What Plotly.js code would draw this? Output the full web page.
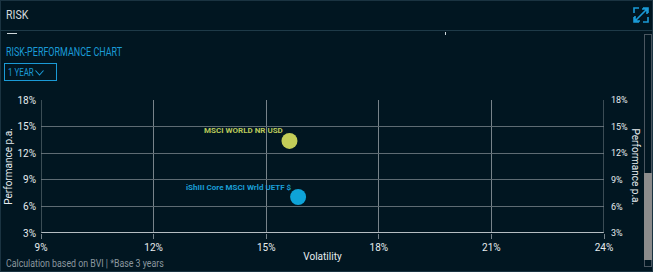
<!DOCTYPE html>
<html><head><meta charset="utf-8">
<script src="https://cdn.plot.ly/plotly-3.0.1.min.js"></script>
<style>
html,body{margin:0;padding:0;background:#011621;width:653px;height:272px;overflow:hidden;font-family:"Roboto",sans-serif;}
#card{position:absolute;left:0;top:0;width:651px;height:270px;border:1px solid #1a3341;}
#hdr{position:absolute;left:0;top:0;width:653px;height:30px;border-bottom:1px solid #1e3a48;}
#hdrt{position:absolute;left:6px;top:8px;color:#d4dadd;font-size:12px;transform:scaleX(0.88);transform-origin:0 0;}
#chart{position:absolute;left:0;top:0;width:653px;height:272px;}
#sub{position:absolute;left:6px;top:44px;color:#1a9ad6;font-size:13px;white-space:nowrap;transform:scaleX(0.69);transform-origin:0 0;}
#sel{position:absolute;left:4px;top:63px;width:53px;height:18px;border:1px solid #1a9ad6;box-sizing:border-box;}
#selt{position:absolute;left:3px;top:2px;color:#1a9ad6;font-size:11px;white-space:nowrap;transform:scaleX(0.72);transform-origin:0 0;}
#chev{position:absolute;left:30px;top:6px;}
#foot{position:absolute;left:6px;top:258px;color:#8a979f;font-size:10px;white-space:nowrap;transform:scaleX(0.88);transform-origin:0 0;}
#track{position:absolute;left:644px;top:34px;width:8px;height:233px;border:1px solid #4a5660;box-sizing:border-box;}
#thumb{position:absolute;left:644px;top:173px;width:8px;height:87px;background:#8c8c8c;}
.frag{position:absolute;height:1px;background:#cfd8dc;}
</style></head><body>
<div id="card"></div>
<div id="hdr"><div id="hdrt">RISK</div>
<svg style="position:absolute;left:633px;top:7px" width="16" height="16" viewBox="0 0 16 16" fill="none" stroke="#1a9ad6" stroke-width="1.6">
<path d="M1 6V1H6M10 1H15V6M15 10V15H10M6 15H1V10M2 14L14 2M9 2H14V7M2 9V14H7"/></svg>
</div>
<div class="frag" style="left:7px;top:33px;width:10px;"></div>
<div class="frag" style="left:445px;top:32px;width:1px;height:3px;"></div>
<div id="chart"></div>
<div id="sub">RISK-PERFORMANCE CHART</div>
<div id="sel"><div id="selt">1 YEAR</div><svg id="chev" width="9" height="6" viewBox="0 0 9 6"><path d="M0.5 0.5L4.5 5L8.5 0.5" fill="none" stroke="#1a9ad6" stroke-width="1.1"/></svg></div>
<div id="foot">Calculation based on BVI | *Base 3 years</div>
<div id="track"></div><div id="thumb"></div>
<script>
const names = ["MSCI WORLD NR USD", "iShIII Core MSCI Wrld UETF $"];
const volatility = [15.62, 15.85];
const performance = [13.38, 7.06];
const colors = ["#c3cd58", "#0ea3d8"];
const labelColors = ["#b9c95a", "#1a9ed6"];
const tickVals = [3, 6, 9, 12, 15, 18];
const xTickVals = [9, 12, 15, 18, 21, 24];

const font = "Roboto, sans-serif";
const gridC = "#5e6b73";
const trace = {
  type: "scatter", mode: "markers",
  x: volatility, y: performance,
  marker: {size: 16, color: colors, line: {width: 0}},
  hoverinfo: "none", showlegend: false
};
const trace2 = {type:"scatter", mode:"markers", x:[null], y:[null], yaxis:"y2", showlegend:false, hoverinfo:"none"};
const annotations = names.map((n, i) => ({
  x: volatility[i], y: performance[i], xref: "x", yref: "y",
  text: "<b>" + n + "</b>", showarrow: false, xanchor: "right", yanchor: "middle",
  xshift: -4, yshift: 10, font: {family: font, size: 8, color: labelColors[i]}
}));
annotations.push({xref:"paper", yref:"paper", x:1, y:0.5, xshift:31, text:"Performance p.a.", textangle:90,
  showarrow:false, xanchor:"center", yanchor:"middle", font:{family:font,size:10,color:"#e6ecef"}});
const layout = {
  width: 653, height: 272,
  margin: {l: 40.5, r: 49, t: 100, b: 39},
  paper_bgcolor: "rgba(0,0,0,0)", plot_bgcolor: "rgba(0,0,0,0)",
  xaxis: {range: [9, 24], tickvals: xTickVals, ticktext: xTickVals.map(v => v + "%"),
    showgrid: true, gridcolor: "#77838a", gridwidth: 1, zeroline: false,
    showline: false, ticks: "outside", ticklen: 5, tickcolor: "#77838a", tickwidth: 1,
    tickfont: {family: font, size: 10, color: "#e6ecef"},
    title: {text: "Volatility", font: {family: font, size: 10, color: "#e6ecef"}, standoff: 0}},
  yaxis: {range: [3, 18], tickvals: tickVals, ticktext: tickVals.map(v => v + "%"),
    showgrid: true, gridcolor: gridC, zeroline: false, showline: false, ticks: "", ticklabelstandoff: 4,
    tickfont: {family: font, size: 10, color: "#e6ecef"},
    title: {text: "Performance p.a.", font: {family: font, size: 10, color: "#e6ecef"}, standoff: 2}},
  yaxis2: {range: [3, 18], overlaying: "y", side: "right", tickvals: tickVals, ticktext: tickVals.map(v => v + "%"),
    showgrid: false, zeroline: false, showline: false, ticks: "", ticklabelstandoff: 6,
    tickfont: {family: font, size: 9, color: "#e6ecef"}},
  shapes: [
    {type:"line", xref:"paper", yref:"y", x0:0, x1:1, y0:3, y1:3, line:{color:"#b5bdc2", width:2}},
    {type:"line", xref:"x", yref:"paper", x0:9, x1:9, y0:0, y1:1, line:{color:"#77838a", width:1}},
    {type:"line", xref:"x", yref:"paper", x0:24, x1:24, y0:0, y1:1, line:{color:"#77838a", width:1}}
  ],
  annotations: annotations
};
Plotly.newPlot("chart", [trace, trace2], layout, {displayModeBar: false, staticPlot: true});
</script>
</body></html>
